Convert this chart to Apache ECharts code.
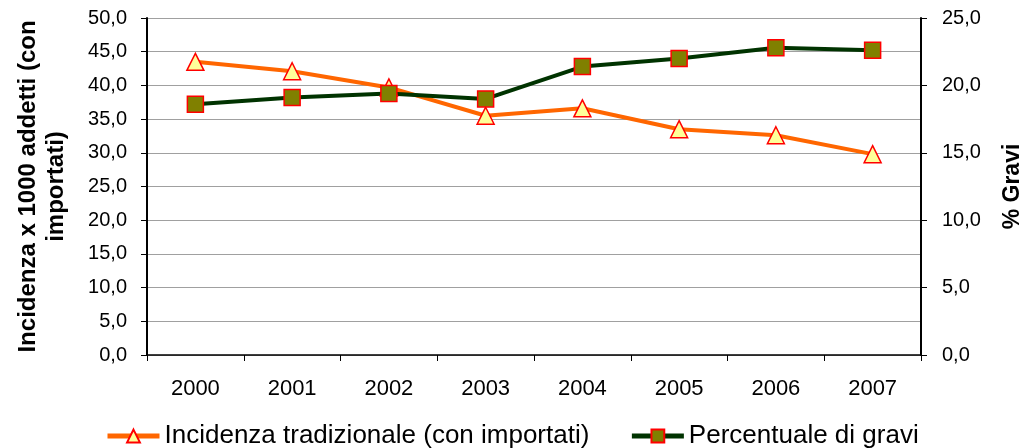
<!DOCTYPE html>
<html>
<head>
<meta charset="utf-8">
<script src="https://cdn.jsdelivr.net/npm/echarts@6/dist/echarts.min.js"></script>
<style>
html, body { margin: 0; padding: 0; background: #fff; }
#chart { width: 1024px; height: 448px; }
</style>
</head>
<body>
<div id="chart"></div>
<script>
var years = ['2000', '2001', '2002', '2003', '2004', '2005', '2006', '2007'];
var incidenza = [43.5, 42.1, 39.7, 35.5, 36.6, 33.5, 32.6, 29.8];
var gravi = [18.6, 19.1, 19.4, 19.0, 21.4, 22.0, 22.8, 22.6];

var font = 'Liberation Sans, Arial, sans-serif';
function fmt(v) { return v.toFixed(1).replace('.', ','); }

var chart = echarts.init(document.getElementById('chart'));
chart.setOption({
    animation: false,
    textStyle: { fontFamily: font },
    grid: { left: 147, right: 103, top: 18, bottom: 93, outerBoundsMode: 'none' },
    legend: {
        top: 418,
        left: 100,
        itemGap: 40,
        itemWidth: 52,
        itemHeight: 16,
        lineStyle: { width: 5 },
        textStyle: { fontSize: 26, color: '#000' },
        data: ['Incidenza tradizionale (con importati)', 'Percentuale di gravi']
    },
    xAxis: {
        type: 'category',
        data: years,
        axisLine: { lineStyle: { color: '#000', width: 1.5 } },
        axisTick: { show: true, alignWithLabel: false, length: 6, lineStyle: { color: '#000' } },
        axisLabel: { fontSize: 22, color: '#000', margin: 23 }
    },
    yAxis: [{
        type: 'value',
        min: 0, max: 50, interval: 5,
        name: 'Incidenza x 1000 addetti (con\nimportati)',
        nameLocation: 'middle',
        nameGap: 77,
        nameTextStyle: { fontSize: 24, fontWeight: 'bold', color: '#000', lineHeight: 28 },
        axisLine: { show: true, lineStyle: { color: '#000', width: 2 } },
        axisTick: { show: true, length: 6, lineStyle: { color: '#000' } },
        axisLabel: { fontSize: 20, color: '#000', margin: 20, formatter: fmt },
        splitLine: { lineStyle: { color: '#a0a0a0', width: 1 } }
    }, {
        type: 'value',
        min: 0, max: 25, interval: 5,
        name: '% Gravi',
        nameLocation: 'middle',
        nameGap: 80,
        nameRotate: 90,
        nameTextStyle: { fontSize: 23, fontWeight: 'bold', color: '#000' },
        axisLine: { show: true, lineStyle: { color: '#000', width: 2 } },
        axisTick: { show: true, length: 6, lineStyle: { color: '#000' } },
        axisLabel: { fontSize: 20, color: '#000', margin: 21, formatter: fmt },
        splitLine: { show: false }
    }],
    series: [{
        name: 'Incidenza tradizionale (con importati)',
        type: 'line',
        yAxisIndex: 0,
        data: incidenza,
        symbol: 'triangle',
        symbolSize: 17,
        lineStyle: { color: '#ff6600', width: 4 },
        itemStyle: { color: '#ffff99', borderColor: '#ff0000', borderWidth: 1.5 }
    }, {
        name: 'Percentuale di gravi',
        type: 'line',
        yAxisIndex: 1,
        data: gravi,
        symbol: 'rect',
        symbolSize: 16,
        lineStyle: { color: '#003300', width: 4 },
        itemStyle: { color: '#808000', borderColor: '#ff0000', borderWidth: 1.5 },
        z: 3
    }]
});
</script>
</body>
</html>
